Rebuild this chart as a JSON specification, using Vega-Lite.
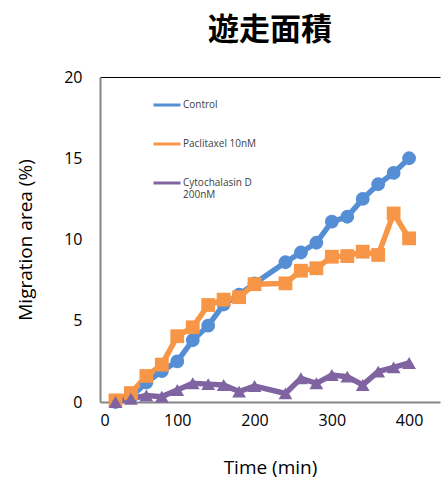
{
  "$schema": "https://vega.github.io/schema/vega-lite/v6.json",
  "autosize": "none",
  "width": 340,
  "height": 325,
  "padding": {"left": 100, "top": 77, "right": 2, "bottom": 82},
  "title": {
    "text": "遊走面積",
    "font": "Noto Sans CJK JP",
    "fontSize": 31,
    "fontWeight": "bold",
    "color": "#000000",
    "offset": 22
  },
  "data": {
    "values": [
      {"time": 20, "series": "Control", "area": 0.0},
      {"time": 40, "series": "Control", "area": 0.3},
      {"time": 60, "series": "Control", "area": 1.2},
      {"time": 80, "series": "Control", "area": 1.9},
      {"time": 100, "series": "Control", "area": 2.5},
      {"time": 120, "series": "Control", "area": 3.8},
      {"time": 140, "series": "Control", "area": 4.7},
      {"time": 160, "series": "Control", "area": 6.0},
      {"time": 180, "series": "Control", "area": 6.6},
      {"time": 200, "series": "Control", "area": 7.3},
      {"time": 240, "series": "Control", "area": 8.6},
      {"time": 260, "series": "Control", "area": 9.2},
      {"time": 280, "series": "Control", "area": 9.8},
      {"time": 300, "series": "Control", "area": 11.1},
      {"time": 320, "series": "Control", "area": 11.4},
      {"time": 340, "series": "Control", "area": 12.5},
      {"time": 360, "series": "Control", "area": 13.4},
      {"time": 380, "series": "Control", "area": 14.1},
      {"time": 400, "series": "Control", "area": 15.0},
      {"time": 20, "series": "Paclitaxel 10nM", "area": 0.1},
      {"time": 40, "series": "Paclitaxel 10nM", "area": 0.55},
      {"time": 60, "series": "Paclitaxel 10nM", "area": 1.6},
      {"time": 80, "series": "Paclitaxel 10nM", "area": 2.3},
      {"time": 100, "series": "Paclitaxel 10nM", "area": 4.05},
      {"time": 120, "series": "Paclitaxel 10nM", "area": 4.6},
      {"time": 140, "series": "Paclitaxel 10nM", "area": 5.97},
      {"time": 160, "series": "Paclitaxel 10nM", "area": 6.3},
      {"time": 180, "series": "Paclitaxel 10nM", "area": 6.45},
      {"time": 200, "series": "Paclitaxel 10nM", "area": 7.25},
      {"time": 240, "series": "Paclitaxel 10nM", "area": 7.3},
      {"time": 260, "series": "Paclitaxel 10nM", "area": 8.08},
      {"time": 280, "series": "Paclitaxel 10nM", "area": 8.23},
      {"time": 300, "series": "Paclitaxel 10nM", "area": 8.94},
      {"time": 320, "series": "Paclitaxel 10nM", "area": 8.98},
      {"time": 340, "series": "Paclitaxel 10nM", "area": 9.25},
      {"time": 360, "series": "Paclitaxel 10nM", "area": 9.05},
      {"time": 380, "series": "Paclitaxel 10nM", "area": 11.6},
      {"time": 400, "series": "Paclitaxel 10nM", "area": 10.07},
      {"time": 20, "series": "Cytochalasin D 200nM", "area": 0.0},
      {"time": 40, "series": "Cytochalasin D 200nM", "area": 0.2},
      {"time": 60, "series": "Cytochalasin D 200nM", "area": 0.4},
      {"time": 80, "series": "Cytochalasin D 200nM", "area": 0.33},
      {"time": 100, "series": "Cytochalasin D 200nM", "area": 0.74},
      {"time": 120, "series": "Cytochalasin D 200nM", "area": 1.15},
      {"time": 140, "series": "Cytochalasin D 200nM", "area": 1.1},
      {"time": 160, "series": "Cytochalasin D 200nM", "area": 1.05},
      {"time": 180, "series": "Cytochalasin D 200nM", "area": 0.64},
      {"time": 200, "series": "Cytochalasin D 200nM", "area": 0.98},
      {"time": 240, "series": "Cytochalasin D 200nM", "area": 0.53},
      {"time": 260, "series": "Cytochalasin D 200nM", "area": 1.46},
      {"time": 280, "series": "Cytochalasin D 200nM", "area": 1.15},
      {"time": 300, "series": "Cytochalasin D 200nM", "area": 1.66},
      {"time": 320, "series": "Cytochalasin D 200nM", "area": 1.56},
      {"time": 340, "series": "Cytochalasin D 200nM", "area": 1.05},
      {"time": 360, "series": "Cytochalasin D 200nM", "area": 1.87},
      {"time": 380, "series": "Cytochalasin D 200nM", "area": 2.13},
      {"time": 400, "series": "Cytochalasin D 200nM", "area": 2.4}
    ]
  },
  "encoding": {
    "x": {
      "field": "time",
      "type": "quantitative",
      "scale": {"domain": [0, 440], "nice": false},
      "axis": {"values": [0, 100, 200, 300, 400], "title": "Time (min)", "titlePadding": 30}
    },
    "y": {
      "field": "area",
      "type": "quantitative",
      "scale": {"domain": [0, 20], "nice": false},
      "axis": {"values": [0, 5, 10, 15, 20], "title": "Migration area (%)", "titlePadding": 28}
    }
  },
  "layer": [
    {
      "mark": {"type": "line", "strokeWidth": 5.5},
      "encoding": {
        "color": {
          "field": "series",
          "type": "nominal",
          "scale": {
            "domain": ["Control", "Paclitaxel 10nM", "Cytochalasin D 200nM"],
            "range": ["#558ED5", "#F79646", "#8064A2"]
          },
          "legend": {
            "title": null,
            "orient": "none",
            "legendX": 52,
            "legendY": 13,
            "symbolType": "stroke",
            "symbolSize": 729,
            "symbolStrokeWidth": 3,
            "labelFont": "Open Sans",
            "labelFontSize": 10,
            "labelColor": "#404040",
            "rowPadding": 18,
            "labelOffset": 1,
            "labelExpr": "datum.label == 'Cytochalasin D 200nM' ? ['Cytochalasin D', '200nM'] : datum.label"
          }
        }
      }
    },
    {
      "mark": {"type": "point", "filled": true, "opacity": 1},
      "encoding": {
        "x": {
          "field": "time",
          "type": "quantitative",
          "axis": {"orient": "top", "labels": false, "title": null, "domainColor": "#000000", "domainWidth": 1}
        },
        "shape": {
          "field": "series",
          "type": "nominal",
          "scale": {
            "domain": ["Control", "Paclitaxel 10nM", "Cytochalasin D 200nM"],
            "range": ["circle", "square", "triangle-up"]
          },
          "legend": null
        },
        "size": {"value": 190},
        "color": {"field": "series", "type": "nominal", "legend": null}
      }
    }
  ],
  "resolve": {"axis": {"x": "independent"}, "legend": {"color": "independent", "shape": "independent"}},
  "config": {
    "view": {"stroke": null},
    "axis": {
      "grid": false,
      "ticks": false,
      "domainColor": "#868686",
      "domainWidth": 2,
      "labelFont": "Open Sans",
      "labelFontSize": 16,
      "labelColor": "#000000",
      "titleFont": "Open Sans",
      "titleFontSize": 19,
      "titleFontWeight": "normal",
      "titleColor": "#000000"
    },
    "axisX": {"labelPadding": 10},
    "axisY": {"labelPadding": 18}
  }
}
